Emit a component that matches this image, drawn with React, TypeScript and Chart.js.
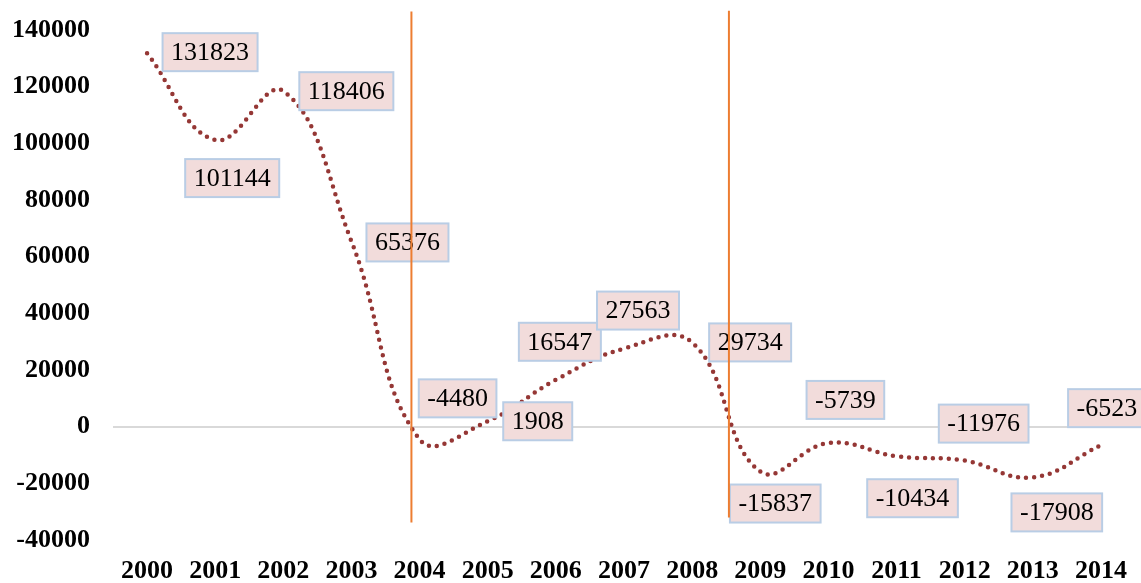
import React, { useEffect, useRef } from "react";
import { Chart, registerables } from "chart.js";

Chart.register(...registerables);

const years = ["2000", "2001", "2002", "2003", "2004", "2005", "2006", "2007", "2008", "2009", "2010", "2011", "2012", "2013", "2014"];
const values = [131823, 101144, 118406, 65376, -4480, 1908, 16547, 27563, 29734, -15837, -5739, -10434, -11976, -17908, -6523];
const yMin = -40000;
const yMax = 140000;
const yStep = 20000;
// label box centre offsets from each point (px)
const labelOffsets: [number, number][] = [
  [63, -1], [17, 38], [63, 0], [56, 1], [38, -41], [50, 0], [4, -38], [14, -38],
  [58, 0], [15, 32], [17, -43], [16, 42], [19, -37], [24, 35], [6, -37],
];
// vertical marker lines: category position and value extent
const markerPositions = [3.88, 8.54];
const markerTops = [146500, 146800];
const markerBottoms = [-33800, -32100];

const SERIF = "'Liberation Serif', 'Times New Roman', serif";

const boxLabels = {
  id: "boxLabels",
  afterDatasetsDraw(chart: any) {
    const ctx = chart.ctx;
    const meta = chart.getDatasetMeta(0);
    ctx.save();
    ctx.font = `26px ${SERIF}`;
    ctx.textAlign = "center";
    ctx.textBaseline = "middle";
    meta.data.forEach((pt: any, i: number) => {
      const txt = String(values[i]);
      const w = ctx.measureText(txt).width + 17;
      const h = 38;
      const cx = pt.x + labelOffsets[i][0];
      const cy = pt.y + labelOffsets[i][1];
      ctx.fillStyle = "#f2dcdb";
      ctx.fillRect(cx - w / 2, cy - h / 2, w, h);
      ctx.strokeStyle = "#b9cde5";
      ctx.lineWidth = 2;
      ctx.strokeRect(cx - w / 2, cy - h / 2, w, h);
      ctx.fillStyle = "#000000";
      ctx.fillText(txt, cx, cy + 1);
    });
    ctx.restore();
  },
};

const markers = {
  id: "markers",
  afterDraw(chart: any) {
    const ctx = chart.ctx;
    const xs = chart.scales.x;
    const ys = chart.scales.y;
    ctx.save();
    ctx.strokeStyle = "#ed7d31";
    ctx.lineWidth = 2;
    markerPositions.forEach((p, i) => {
      const x = xs.getPixelForValue(p);
      ctx.beginPath();
      ctx.moveTo(x, ys.getPixelForValue(markerTops[i]));
      ctx.lineTo(x, ys.getPixelForValue(markerBottoms[i]));
      ctx.stroke();
    });
    ctx.restore();
  },
};

export default function App() {
  const ref = useRef<HTMLCanvasElement | null>(null);
  useEffect(() => {
    document.body.style.margin = "0";
    const chart = new Chart(ref.current as HTMLCanvasElement, {
      type: "line",
      data: {
        labels: years,
        datasets: [
          {
            data: values,
            borderColor: "#953735",
            borderWidth: 4.5,
            borderDash: [0, 8],
            borderCapStyle: "round",
            tension: 0.42,
            pointRadius: 0,
            fill: false,
          },
        ],
      },
      options: {
        animation: false,
        responsive: false,
        layout: { padding: { top: 30, right: 6, bottom: 0, left: 0 } },
        plugins: { legend: { display: false }, tooltip: { enabled: false } },
        scales: {
          x: {
            offset: true,
            grid: { display: false, drawTicks: false },
            border: { display: false },
            ticks: { color: "#000", font: { family: SERIF, size: 26, weight: "bold" }, padding: 16, maxRotation: 0, autoSkip: false },
            afterFit: (s: any) => { s.height = 43; s.paddingLeft = 0; s.paddingRight = 0; },
          },
          y: {
            min: yMin,
            max: yMax,
            grid: {
              drawTicks: false,
              lineWidth: 2,
              color: (c: any) => (c.tick && c.tick.value === 0 ? "#d9d9d9" : "rgba(0,0,0,0)"),
            },
            border: { display: false },
            ticks: {
              stepSize: yStep,
              color: "#000",
              font: { family: SERIF, size: 26, weight: "bold" },
              padding: 23,
              callback: (v: any) => String(v),
            },
            afterFit: (s: any) => { s.width = 113; s.paddingTop = 0; s.paddingBottom = 0; },
          },
        },
      },
      plugins: [boxLabels, markers],
    } as any);
    return () => chart.destroy();
  }, []);
  return (
    <div style={{ width: 1141, height: 583 }}>
      <canvas ref={ref} width={1141} height={583} />
    </div>
  );
}
